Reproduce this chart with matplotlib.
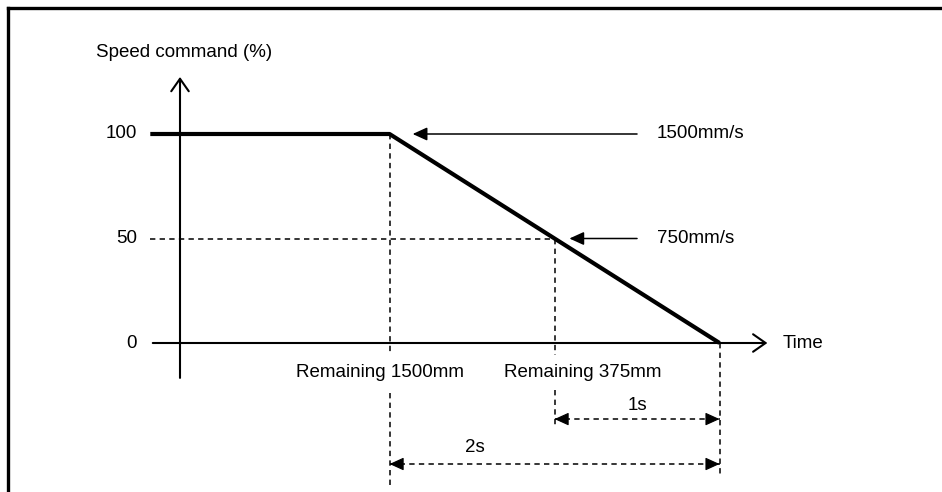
import matplotlib.pyplot as plt
from matplotlib.lines import Line2D

plt.rcParams['font.family'] = ['Liberation Sans', 'DejaVu Sans']
plt.rcParams['font.size'] = 13.5

# speed profile (time in s, speed in %)
time_pts = [-0.18, 1.27, 3.27]
speed_pts = [100, 100, 0]
ytick_vals = [0, 50, 100]
ytick_labels = ['0', '50', '100']
t_decel = 1.27   # Remaining 1500mm
t_half = 2.27    # Remaining 375mm
t_stop = 3.27
speed_labels = ['1500mm/s', '750mm/s']
remain_labels = ['Remaining 1500mm', 'Remaining 375mm']

fig = plt.figure(figsize=(9.42, 4.92), dpi=100)
ax = fig.add_axes([0, 0, 1, 1])
ax.set_xlim(-180 / 165, 762 / 165)
ax.set_ylim(-149 / 2.09, 343 / 2.09)
ax.axis('off')

# frame (left + top only visible)
fig.add_artist(Line2D([8 / 942, 8 / 942], [0, 1 - 8 / 492], color='black', lw=2.4))
fig.add_artist(Line2D([8 / 942, 1], [1 - 8 / 492, 1 - 8 / 492], color='black', lw=2.4))

dash = (0, (3.5, 2.8))

# axes with open arrowheads
ax.annotate('', xy=(0, 127.3), xytext=(0, -16.7),
            arrowprops=dict(arrowstyle='->,head_length=0.5,head_width=0.35', lw=1.5,
                            color='black', shrinkA=0, shrinkB=0, mutation_scale=18))
ax.annotate('', xy=(3.56, 0), xytext=(-0.165, 0),
            arrowprops=dict(arrowstyle='->,head_length=0.5,head_width=0.35', lw=1.5,
                            color='black', shrinkA=0, shrinkB=0, mutation_scale=18))
ax.text(0.024, 139, 'Speed command (%)', ha='center', va='center')
ax.text(3.655, 0, 'Time', ha='left', va='center')

for v, lab in zip(ytick_vals, ytick_labels):
    ax.text(-0.26, v, lab, ha='right', va='center')

# guide lines
ax.plot([time_pts[0], t_half], [50, 50], color='black', lw=1.1, ls=dash)
ax.plot([t_decel, t_decel], [100, -5.7], color='black', lw=1.1, ls=dash)
ax.plot([t_decel, t_decel], [-23.9, -69.4], color='black', lw=1.1, ls=dash)
ax.plot([t_half, t_half], [50, -5.7], color='black', lw=1.1, ls=dash)
ax.plot([t_half, t_half], [-22.5, -40.7], color='black', lw=1.1, ls=dash)
ax.plot([t_stop, t_stop], [0, -64.1], color='black', lw=1.1, ls=dash)

# speed command
ax.plot(time_pts, speed_pts, color='black', lw=3, solid_capstyle='butt', zorder=5)

# speed callouts
ax.annotate('', xy=(1.41, 100), xytext=(2.77, 100),
            arrowprops=dict(arrowstyle='-|>,head_length=0.55,head_width=0.25', lw=1.1,
                            color='black', shrinkA=0, shrinkB=0, mutation_scale=16))
ax.annotate('', xy=(2.36, 50), xytext=(2.77, 50),
            arrowprops=dict(arrowstyle='-|>,head_length=0.55,head_width=0.25', lw=1.1,
                            color='black', shrinkA=0, shrinkB=0, mutation_scale=16))
ax.text(2.89, 100, speed_labels[0], ha='left', va='center')
ax.text(2.89, 50, speed_labels[1], ha='left', va='center')

ax.text(1.21, -13.9, remain_labels[0], ha='center', va='center')
ax.text(2.44, -13.9, remain_labels[1], ha='center', va='center')


def dim_arrow(t0, t1, v):
    ax.plot([t0, t1], [v, v], color='black', lw=1.1, ls=dash)
    for tip, tail in [(t0, t0 + 0.02), (t1, t1 - 0.02)]:
        ax.annotate('', xy=(tip, v), xytext=(tail, v),
                    arrowprops=dict(arrowstyle='-|>,head_length=0.55,head_width=0.25', lw=0.8,
                                    color='black', shrinkA=0, shrinkB=0, mutation_scale=16))


dim_arrow(t_half, t_stop, -36.4)
dim_arrow(t_decel, t_stop, -57.9)
ax.text((t_half + t_stop) / 2, -29.7, '1s', ha='center', va='center')
ax.text(1.79, -50.2, '2s', ha='center', va='center')

fig.savefig('out.png', dpi=100)
